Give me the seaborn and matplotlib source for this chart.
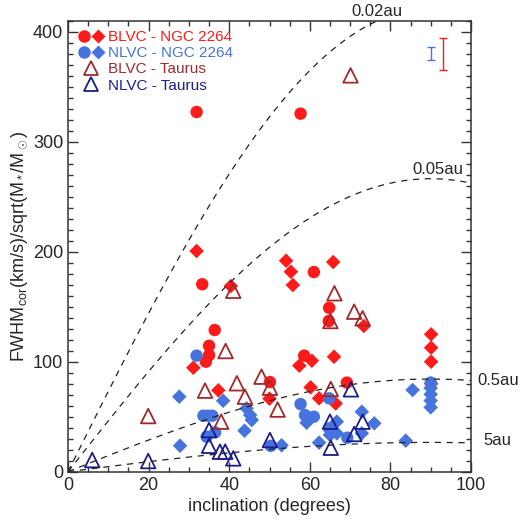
import numpy as np
import pandas as pd
import matplotlib
matplotlib.use("Agg")
import matplotlib.pyplot as plt
import seaborn as sns
from matplotlib.legend_handler import HandlerTuple
from matplotlib.lines import Line2D
from matplotlib.ticker import MultipleLocator

# BLVC - NGC 2264, circles
blvc_ngc_c_inc = [31.9, 57.7, 33.3, 61.0, 64.8, 64.7, 36.4, 35.0, 35.0, 34.2, 58.6, 50.1, 69.2]
blvc_ngc_c_fwhm = [327, 325.5, 170.4, 181.5, 149, 137, 128.8, 114.5, 106, 100, 105.5, 81.5, 81]
# BLVC - NGC 2264, diamonds
blvc_ngc_d_inc = [31.9, 40.4, 54.1, 55.3, 55.8, 65.8, 73.4, 90.1, 90.1, 90.1, 90.1, 31.1, 37.3,
                  50.0, 57.4, 60.5, 66.0, 60.2, 62.3, 66.4]
blvc_ngc_d_fwhm = [200.6, 168.8, 191.8, 181.8, 169.7, 190.6, 132.5, 124.9, 112.7, 100, 80, 94.5, 74,
                   66.4, 96.4, 100.9, 104.5, 76.7, 66.7, 62]
# NLVC - NGC 2264, circles
nlvc_ngc_c_inc = [31.9, 33.6, 34.7, 35.8, 34.4, 36.5, 50.3, 57.7, 58.8, 61.0, 64.8, 64.8, 69.3, 90.0]
nlvc_ngc_c_fwhm = [105.5, 50.9, 50.9, 50.9, 31.8, 35.8, 23.5, 61.5, 51.5, 50, 66.7, 39.4, 30.9, 81]
# NLVC - NGC 2264, diamonds
nlvc_ngc_d_inc = [27.6, 27.8, 38.5, 44.3, 45.2, 45.6, 43.8, 53.0, 59.2, 66.7, 65.0, 66.7, 72.9, 76.0,
                  72.9, 62.3, 83.8, 85.5, 90.0, 90.0, 90.0, 90.0]
nlvc_ngc_d_fwhm = [68.2, 23.6, 64.5, 57.6, 51.5, 47, 37.3, 24, 44.5, 45.5, 33.4, 34.9, 54.5, 44,
                   34.9, 26.4, 28.2, 74.3, 76, 70.4, 64.6, 58.5]
# BLVC - Taurus
blvc_tau_inc = [70.1, 41.0, 66.1, 65.1, 71.0, 73.1, 39.1, 19.9, 34.0, 41.9, 43.9, 48.0, 50.1, 52.0, 38.0, 65.2]
blvc_tau_fwhm = [360.3, 164.5, 162.2, 137, 145.5, 139.5, 109.7, 50.6, 73.7, 80.4, 68.2, 86.4, 76.4, 56.5, 45.5, 75.2]
# NLVC - Taurus
nlvc_tau_inc = [6.0, 19.9, 35.0, 35.0, 37.7, 39.0, 41.0, 50.1, 70.2, 65.0, 73.1, 71.0, 65.2]
nlvc_tau_fwhm = [10.6, 9.7, 37.9, 23.6, 18.2, 18.2, 12.1, 28.8, 74.9, 45.5, 45.5, 34.3, 21.8]

# Keplerian reference radii (au) and their labels
radii = [0.02, 0.05, 0.5, 5]
radius_labels = ["0.02au", "0.05au", "0.5au", "5au"]

# typical error bars
err_inc = [90.0, 93.1]
err_fwhm = [380, 380]
err_size = [5.7, 14.5]

RED = "#ff1a1a"
BLUE = "#4673de"
BROWN = "#a3282c"
NAVY = "#1c1c8e"

sns.set_style("ticks")
plt.rcParams["font.family"] = ["Liberation Sans", "DejaVu Sans"]
plt.rcParams["mathtext.fontset"] = "custom"
plt.rcParams["mathtext.rm"] = "Liberation Sans"
plt.rcParams["mathtext.it"] = "Liberation Sans:italic"

fig = plt.figure(figsize=(5.24, 5.24), dpi=100)
ax = fig.add_axes([0.1298, 0.0998, 0.7691, 0.8607])

# Keplerian curves FWHM = 2 v_K sin(i)
inc = np.linspace(0, 100, 300)
for r in radii:
    curve = pd.DataFrame({"inc": inc, "fwhm": 2 * 29.78 / np.sqrt(r) * np.sin(np.radians(inc))})
    sns.lineplot(data=curve, x="inc", y="fwhm", ax=ax, color="#222222", lw=0.9,
                 dashes=False, linestyle=(0, (5, 4.5)))

sns.scatterplot(x=blvc_ngc_c_inc, y=blvc_ngc_c_fwhm, ax=ax, marker="o", s=80, color=RED, edgecolor="none")
sns.scatterplot(x=blvc_ngc_d_inc, y=blvc_ngc_d_fwhm, ax=ax, marker="D", s=55, color=RED, edgecolor="none")
sns.scatterplot(x=nlvc_ngc_c_inc, y=nlvc_ngc_c_fwhm, ax=ax, marker="o", s=80, color=BLUE, edgecolor="none")
sns.scatterplot(x=nlvc_ngc_d_inc, y=nlvc_ngc_d_fwhm, ax=ax, marker="D", s=55, color=BLUE, edgecolor="none")
sns.scatterplot(x=blvc_tau_inc, y=blvc_tau_fwhm, ax=ax, marker="^", s=110, facecolor="none",
                edgecolor=BROWN, linewidth=1.3)
sns.scatterplot(x=nlvc_tau_inc, y=nlvc_tau_fwhm, ax=ax, marker="^", s=110, facecolor="none",
                edgecolor=NAVY, linewidth=1.3)

ax.errorbar(err_inc[0], err_fwhm[0], yerr=err_size[0], color=BLUE, capsize=2.6, lw=1, capthick=1)
ax.errorbar(err_inc[1], err_fwhm[1], yerr=err_size[1], color=RED, capsize=3, lw=1, capthick=1)

ax.set_xlim(0, 100)
ax.set_ylim(0, 410)
ax.xaxis.set_major_locator(MultipleLocator(20))
ax.xaxis.set_minor_locator(MultipleLocator(5))
ax.yaxis.set_major_locator(MultipleLocator(100))
ax.yaxis.set_minor_locator(MultipleLocator(10))
ax.tick_params(which="both", direction="in", top=True, right=True, labelsize=13, color="#333333")
ax.tick_params(which="major", length=7, width=1)
ax.tick_params(which="minor", length=3.5, width=1)
for sp in ax.spines.values():
    sp.set_linewidth(1.1)
    sp.set_color("#333333")

ax.set_xlabel("inclination (degrees)", fontsize=13, labelpad=3)
ax.set_ylabel(r"FWHM$_{\rm cor}$(km/s)/sqrt(M$_*$/M$_\odot$)", fontsize=13, labelpad=2)

# curve labels
ax.text(83.1, 418, radius_labels[0], fontsize=12, ha="right", va="center", clip_on=False)
ax.text(98.1, 275, radius_labels[1], fontsize=12, ha="right", va="center")
ax.text(101.5, 83, radius_labels[2], fontsize=12, ha="left", va="center", clip_on=False)
ax.text(103, 28, radius_labels[3], fontsize=12, ha="left", va="center", clip_on=False)

h_bl = (Line2D([], [], marker="o", ls="", color=RED, ms=9, mec="none"),
        Line2D([], [], marker="D", ls="", color=RED, ms=7.5, mec="none"))
h_nl = (Line2D([], [], marker="o", ls="", color=BLUE, ms=9, mec="none"),
        Line2D([], [], marker="D", ls="", color=BLUE, ms=7.5, mec="none"))
h_bt = Line2D([], [], marker="^", ls="", mfc="none", mec=BROWN, ms=10.5, mew=1.3)
h_nt = Line2D([], [], marker="^", ls="", mfc="none", mec=NAVY, ms=10.5, mew=1.3)
ax.legend([h_bl, h_nl, h_bt, h_nt],
          ["BLVC - NGC 2264", "NLVC - NGC 2264", "BLVC - Taurus", "NLVC - Taurus"],
          handler_map={tuple: HandlerTuple(ndivide=None, pad=0.1)},
          labelcolor=[RED, BLUE, BROWN, NAVY], frameon=False, fontsize=11,
          loc="upper left", bbox_to_anchor=(0.0, 1.0), handlelength=1.8, handletextpad=0.2,
          labelspacing=0.15, borderaxespad=0.4, borderpad=0.2)

fig.savefig("out.png", dpi=100)
